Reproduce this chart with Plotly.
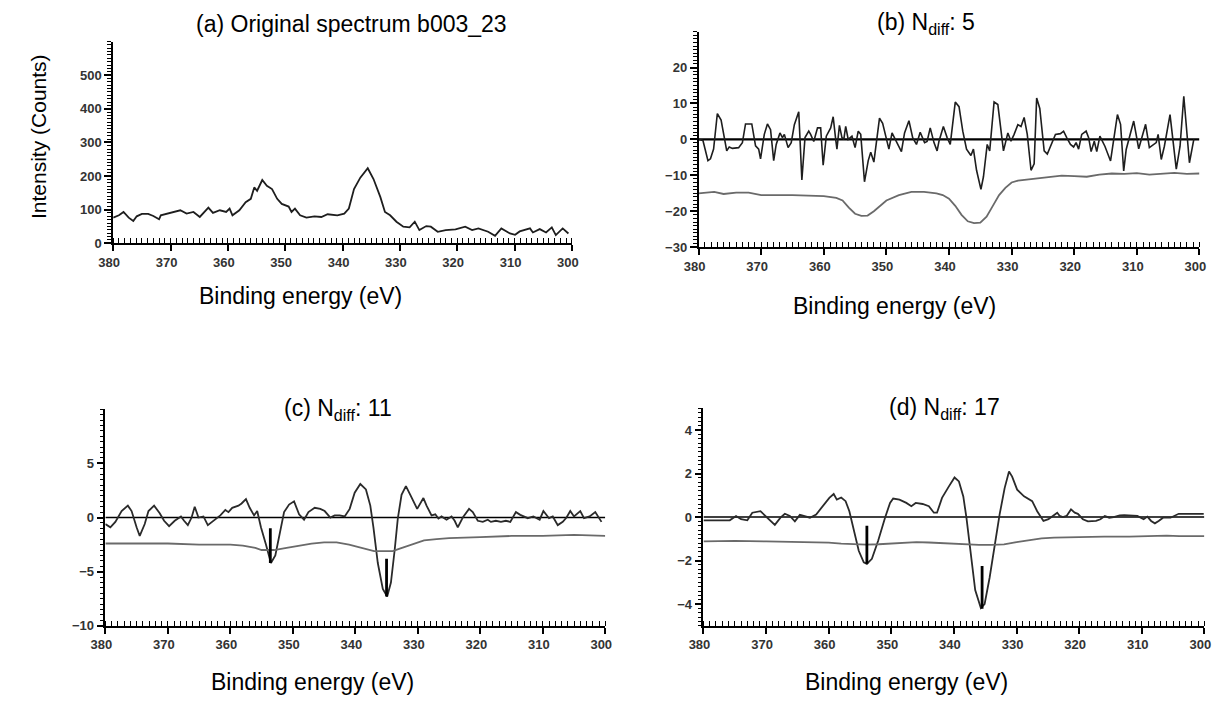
import plotly.graph_objects as go

W, H = 1231, 703

# ---------------- (a) Original spectrum ----------------
a_x = [380, 379.0, 378.2, 377.3, 376.5, 375.9, 375.0, 373.9, 373.0, 372.0,
       371.7, 370.6, 369.4, 368.3, 367.2, 366.0, 364.9, 363.4, 362.6, 361.4, 360.3, 359.7, 359.2, 358.0,
       356.9, 356.0, 355.4, 354.9, 354.0, 353.2, 352.3, 351.4, 350.6, 349.4, 348.9, 348.3, 347.4, 346.3,
       344.9, 343.7, 342.6, 340.9, 339.7, 338.9, 338.0, 336.9, 335.6, 334.6, 333.4, 332.6, 331.7, 330.6,
       329.4, 328.3, 327.4, 326.6, 325.4, 324.6, 323.4, 322.0, 320.3, 318.6, 317.4, 316.3, 314.6, 313.4,
       312.3, 310.8, 309.9, 309.1, 307.3, 306.8, 305.6, 304.5, 303.5, 302.8, 301.6, 300.6]
a_y = [76, 83, 93, 76, 66, 80, 87, 87, 81, 71,
       83, 88, 93, 98, 88, 93, 78, 106, 90, 98, 93, 103, 83, 98,
       122, 132, 166, 156, 188, 171, 161, 132, 117, 109, 93, 103, 83, 76,
       80, 78, 86, 83, 88, 103, 161, 195, 223, 191, 137, 93, 83, 64,
       49, 47, 64, 39, 51, 49, 34, 39, 41, 49, 39, 44, 34, 22,
       44, 29, 25, 35, 44, 32, 42, 32, 47, 24, 44, 29]

# ---------------- (b) N_diff = 5 ----------------
b_x = [380, 379.3, 378.5, 378.1, 377.6, 377.0, 376.4, 375.9, 375.5, 375.1, 374.6, 373.6, 373.0, 372.5,
       371.5, 370.9, 370.4, 370.1, 369.5, 369.0, 368.5, 368.0, 367.6, 367.0, 366.6, 366.3, 365.7, 365.2,
       364.7, 364.0, 363.5, 363.0, 362.4, 362.1, 361.6, 361.0, 360.5, 360.1, 359.6, 358.9, 358.5, 358.1,
       357.9, 357.5, 357.1, 356.8, 356.5, 356.1, 355.5, 355.0, 354.5, 354.1, 353.5, 352.9, 352.5, 352.0,
       351.6, 351.1, 350.6, 350.2, 349.6, 349.1, 348.4, 347.6, 347.1, 346.4, 345.8, 345.2, 344.6, 343.9,
       343.5, 343.0, 342.4, 341.9, 341.6, 340.9, 340.3, 339.8, 339.0, 338.4, 337.8, 337.2, 336.5, 336.1,
       335.6, 334.9, 334.5, 333.9, 333.5, 332.8, 332.2, 331.6, 331.3, 330.6, 330.1, 329.6, 329.0, 328.5,
       328.0, 327.5, 326.9, 326.4, 326.0, 325.5, 324.8, 324.3, 323.8, 323.0, 322.2, 321.7, 321.2, 320.6,
       320.1, 319.7, 319.3, 318.8, 318.1, 317.7, 317.3, 316.8, 316.4, 315.9, 315.1, 314.2, 313.1, 312.6,
       312.1, 311.7, 310.5, 310.1, 309.7, 308.6, 308.0, 306.9, 306.6, 306.1, 305.6, 304.7, 303.7, 303.1,
       302.5, 301.6, 300.9]
b_y = [0, -0.3, -5.9, -5.4, -2.7, 7.2, 5.4, 0.5, -3.2, -2.1, -2.5, -2.3, -0.9, 4.3,
       4.3, -1.8, -2.7, -5.4, 1.4, 4.3, 2.7, -5.9, -1.4, 1.8, 0.5, 1.4, -2.3, -0.9,
       4.1, 7.7, -11.3, 0.5, 2.3, 1.4, -0.6, 3.2, 3.2, -7.2, 0.9, 3.2, 6.3, 0,
       -2.7, 3.9, 0.5, 0, 3.6, 0, 0.9, -2.3, 2.3, 1.4, -11.8, -5.9, -3.6, -6.3,
       -0.9, 5.9, 4.5, 1.8, -2.7, 1.8, -0.5, -3.4, 1.8, 5.2, 0.5, -1.4, 2.0, -0.9,
       -0.6, 3.2, -0.9, -3.2, -0.5, 3.6, 0.5, -1.4, 10.4, 9.1, 2.3, -2.7, -4.5, -2.7,
       -8.6, -13.9, -10.4, -1.4, -3.2, 10.4, 9.7, 0.5, -3.2, 1.8, -0.5, 1.4, 4.1, 3.6,
       6.1, 1.4, -8.6, -6.8, 11.5, 8.6, -3.2, -4.1, -1.8, 1.4, 1.6, 2.3, 0.5, -1.4,
       -2.1, -0.9, -2.7, 1.4, 2.3, 0.5, -3.4, -0.5, -3.4, 0.9, -1.9, -6.0, 6.9, 4.2,
       -8.8, -2.8, 5.1, 0.9, -2.6, 4.2, -2.3, -0.9, 1.4, -5.6, -1.9, 6.9, -8.3, -1.9,
       12.0, -6.5, 0]
b_ref_x = [380, 377.5, 376, 374, 372, 370, 365, 362, 360, 358, 357, 356, 355, 354, 353, 352, 351, 350,
           348, 346, 344, 342, 341, 340, 339, 338, 337, 336, 335, 334, 333, 332, 331, 330, 329, 328,
           326, 324, 322, 320, 318, 316, 314, 312, 310, 308, 306, 304, 302, 300]
b_ref_y = [-15, -14.6, -15.2, -14.8, -14.8, -15.5, -15.5, -15.7, -15.8, -16.3, -17, -19, -20.7, -21.3,
           -21.2, -20, -18.5, -17, -15.5, -14.6, -14.6, -15, -15.5, -16.5, -18.5, -21, -22.8, -23.3,
           -23.2, -21.5, -18.5, -15.5, -13.5, -12, -11.5, -11.3, -10.8, -10.3, -10.1, -10.2, -10.4,
           -9.8, -9.5, -9.6, -9.4, -9.8, -9.6, -9.3, -9.6, -9.5]

# ---------------- (c) N_diff = 11 ----------------
c_x = [380, 379.2, 378.4, 377.4, 376.4, 375.8, 375.0, 374.5, 373.7, 373.1, 372.2, 371.3, 370.6, 369.8,
       368.9, 367.9, 367.4, 366.8, 366.2, 365.7, 365.1, 364.3, 363.6, 362.7, 361.6, 360.8, 360.3, 359.7,
       358.7, 358.2, 357.5, 356.9, 356.2, 355.7, 355.1, 354.3, 353.5, 352.8, 352.2, 351.4, 350.6, 349.8,
       349.0, 348.2, 347.5, 346.5, 345.6, 344.9, 344.0, 343.3, 342.5, 341.7, 340.9, 340.1, 339.2, 338.3,
       337.6, 337.1, 336.4, 335.6, 334.9, 334.3, 333.7, 333.2, 332.6, 331.9, 331.2, 330.1, 329.1, 328.6,
       327.8, 327.2, 326.7, 326.2, 325.4, 324.6, 324.1, 323.6, 322.8, 321.8, 321.2, 320.4, 319.6, 318.8,
       318.3, 317.5, 316.7, 315.9, 315.2, 314.3, 313.6, 312.4, 311.5, 310.5, 309.9, 309.0, 308.4, 307.6,
       306.8, 306.2, 305.6, 305.0, 304.0, 303.4, 302.5, 301.6, 300.6]
c_y = [-0.6, -0.9, -0.4, 0.6, 1.1, 0.6, -0.9, -1.7, -0.6, 0.6, 1.1, 0.4, -0.3, -0.8,
       -0.3, 0.1, -0.3, -0.7, 0, 1.0, 0, 0.1, -0.7, -0.3, 0.2, 0.7, 0.5, 0.9,
       1.1, 1.3, 1.7, 0.9, 0.2, 0.6, -0.9, -2.5, -4.2, -3.5, -1.8, 0.5, 1.2, 1.5,
       0.3, -0.2, 0.5, 0.9, 0.8, 0.6, 0, 0.2, 0.2, 0.1, 0.8, 2.3, 3.1, 2.6,
       1.1, -0.9, -4.2, -6.6, -7.3, -6.0, -3.0, -0.1, 2.1, 2.9, 2.1, 0.8, 1.8, 1.1,
       0.2, 0.3, -0.1, 0.1, -0.2, 0.1, -0.3, -0.9, 0, 0.8, 0.5, -0.3, -0.4, -0.2,
       -0.4, -0.3, -0.4, -0.3, -0.4, 0.5, 0.25, -0.06, 0.1, -0.2, 0.6, -0.06, 0.1, -0.7,
       -0.4, 0, 0.6, 0.1, 0.6, -0.06, 0.1, 0.5, -0.4]
c_ref_x = [380, 370, 365, 360, 358, 356, 355, 353, 351, 349, 347, 345, 343, 341, 339, 337, 335, 334,
           333, 331, 329, 327, 325, 320, 315, 310, 305, 300]
c_ref_y = [-2.4, -2.4, -2.5, -2.5, -2.6, -2.8, -3.0, -3.0, -2.8, -2.6, -2.4, -2.3, -2.3, -2.5, -2.8,
           -3.1, -3.1, -3.1, -2.9, -2.5, -2.1, -2.0, -1.9, -1.8, -1.7, -1.7, -1.6, -1.7]
c_peak_x = [353.6, 335.0]
c_peak_top = [-1.0, -3.8]
c_peak_bottom = [-4.2, -7.3]

# ---------------- (d) N_diff = 17 ----------------
d_x = [380, 375.8, 374.8, 374.0, 373.0, 372.2, 370.9, 369.8, 368.6, 367.7, 367.0, 366.2, 365.4, 364.6,
       363.8, 363.0, 362.0, 360.9, 359.9, 359.2, 358.7, 358.0, 357.3, 356.7, 356.0, 355.2, 354.4, 353.9,
       353.1, 352.1, 351.0, 350.2, 349.7, 348.7, 347.6, 346.8, 346.1, 345.0, 344.0, 343.2, 342.7, 341.9,
       340.8, 339.9, 339.2, 338.5, 338.0, 337.3, 336.6, 335.7, 335.1, 334.3, 333.5, 332.7, 331.9, 331.2,
       330.7, 329.9, 328.8, 328.0, 327.5, 326.7, 325.7, 324.9, 324.2, 323.5, 323.1, 322.6, 322.0, 321.3,
       320.7, 320.2, 319.4, 318.6, 317.3, 316.6, 315.9, 315.2, 314.5, 313.5, 312.8, 311.6, 310.7, 309.7,
       309.1, 308.5, 307.9, 307.3, 306.6, 305.4, 304.1, 302.3, 300.1]
d_y = [-0.15, -0.15, 0.05, -0.1, -0.15, 0.2, 0.27, -0.03, -0.36, -0.03, 0.15, 0.05, -0.2, 0.1,
       0.05, -0.03, 0.12, 0.5, 0.88, 1.06, 0.8, 0.9, 0.73, 0.27, -0.64, -1.55, -2.08, -2.15,
       -1.92, -1.09, -0.03, 0.65, 0.85, 0.8, 0.65, 0.5, 0.65, 0.6, 0.5, 0.2, 0.2, 0.88,
       1.41, 1.82, 1.64, 0.95, -0.03, -1.7, -3.36, -4.18, -4.0, -2.79, -1.24, 0.12, 1.33, 2.09,
       1.86, 1.26, 0.95, 0.8, 0.73, 0.27, -0.18, -0.1, 0.05, 0.2, 0.05, 0, 0.05, 0.35,
       0.2, 0.15, -0.1, -0.2, -0.18, -0.1, 0.05, -0.03, 0, 0.08, 0.09, 0.08, 0.05, -0.1,
       0.02, -0.18, -0.29, -0.18, -0.03, -0.03, 0.15, 0.15, 0.15]
d_ref_x = [380, 375, 370, 365, 362, 360, 358, 356, 354, 352, 350, 348, 346, 344, 342, 340, 338, 336,
           334, 332, 330, 328, 326, 324, 320, 316, 312, 308, 306, 304, 300]
d_ref_y = [-1.12, -1.1, -1.12, -1.14, -1.15, -1.18, -1.22, -1.25, -1.27, -1.25, -1.22, -1.18, -1.15,
           -1.17, -1.2, -1.25, -1.27, -1.28, -1.28, -1.26, -1.15, -1.05, -0.98, -0.95, -0.92, -0.9,
           -0.9, -0.88, -0.85, -0.88, -0.88]
d_peak_x = [353.9, 335.5]
d_peak_top = [-0.4, -2.25]
d_peak_bottom = [-2.15, -4.22]

# ---------------- axis / label text ----------------
energy_ticks = list(range(300, 381, 10))
panel_titles = ["(a) Original spectrum b003_23", "(b) N<sub>diff</sub>: 5",
                "(c) N<sub>diff</sub>: 11", "(d) N<sub>diff</sub>: 17"]
x_title = "Binding energy (eV)"
y_title = "Intensity (Counts)"
a_yticks = [0, 100, 200, 300, 400, 500]
b_yticks = [-30, -20, -10, 0, 10, 20]
c_yticks = [-10, -5, 0, 5]
d_yticks = [-4, -2, 0, 2, 4]

BLACK = "#1e1e1e"
GREY = "#6a6a6a"

fig = go.Figure()


def line(x, y, ax, color, width):
    fig.add_trace(go.Scatter(x=x, y=y, mode="lines", line=dict(color=color, width=width),
                             xaxis="x" + ax, yaxis="y" + ax, showlegend=False, hoverinfo="skip"))


# (a)
line(a_x, a_y, "", BLACK, 1.8)
# (b)
line([380, 300], [0, 0], "2", "#000000", 2.2)
line(b_x, b_y, "2", BLACK, 1.6)
line(b_ref_x, b_ref_y, "2", GREY, 1.8)
# (c)
line([380, 300], [0, 0], "3", "#000000", 1.6)
line(c_x, c_y, "3", "#2a2a2a", 1.8)
line(c_ref_x, c_ref_y, "3", GREY, 1.8)
for px_, t, b in zip(c_peak_x, c_peak_top, c_peak_bottom):
    line([px_, px_], [t, b], "3", "#000000", 2.8)
# (d)
line([380, 300], [0, 0], "4", "#000000", 1.6)
line(d_x, d_y, "4", "#2a2a2a", 1.8)
line(d_ref_x, d_ref_y, "4", GREY, 1.8)
for px_, t, b in zip(d_peak_x, d_peak_top, d_peak_bottom):
    line([px_, px_], [t, b], "4", "#000000", 2.8)

tick_font = dict(family="Arial, Liberation Sans, sans-serif", size=13, color="#333333", weight="bold")


def xax(x0, x1, anchor):
    return dict(domain=[x0 / W, x1 / W], range=[380, 300], anchor=anchor,
                tickmode="array", tickvals=energy_ticks, ticklabelshift=4,
                ticks="outside", ticklen=6, tickwidth=1.5, tickcolor="black",
                showline=True, linecolor="black", linewidth=1.6,
                showgrid=False, zeroline=False, tickfont=tick_font,
                minor=dict(tickmode="linear", tick0=300, dtick=1, ticks="inside", ticklen=5,
                           tickwidth=1, tickcolor="black", showgrid=False))


def yax(top, bottom, rng, tvals, mdt, anchor):
    return dict(domain=[1 - bottom / H, 1 - top / H], range=rng, anchor=anchor,
                tickmode="array", tickvals=tvals,
                ticks="outside", ticklen=7, tickwidth=1.5, tickcolor="black",
                showline=True, linecolor="black", linewidth=1.6,
                showgrid=False, zeroline=False, tickfont=tick_font,
                minor=dict(tickmode="linear", tick0=rng[0], dtick=mdt, ticks="outside", ticklen=4,
                           tickwidth=1, tickcolor="black", showgrid=False))


fig.update_layout(
    width=W, height=H,
    margin=dict(l=0, r=0, t=0, b=0),
    paper_bgcolor="white", plot_bgcolor="white",
    showlegend=False,
    xaxis=xax(100, 567, "y"),
    yaxis=yax(42, 246, [0, 600], a_yticks, 10, "x"),
    xaxis2=xax(696, 1206, "y2"),
    yaxis2=yax(32, 250, [-30, 30], b_yticks, 1, "x2"),
    xaxis3=xax(92, 601, "y3"),
    yaxis3=yax(414, 633, [-10, 10], c_yticks, 0.5, "x3"),
    xaxis4=xax(701, 1211, "y4"),
    yaxis4=yax(413, 633, [-5, 5], d_yticks, 0.2, "x4"),
)

label_font = dict(family="Arial, Liberation Sans, sans-serif", color="black")


def ann(text, x, y, size, angle=0):
    fig.add_annotation(text=text, x=x / W, y=1 - y / H, xref="paper", yref="paper",
                       showarrow=False, xanchor="center", yanchor="middle", textangle=angle,
                       font=dict(size=size, **label_font))


ann(panel_titles[0], 343, 24, 23)
ann(panel_titles[1], 928, 24, 23)
ann(panel_titles[2], 329, 414, 23)
ann(panel_titles[3], 946, 413, 23)
ann(x_title, 291, 299, 23)
ann(x_title, 896, 310, 23)
ann(x_title, 303, 690, 23)
ann(x_title, 908, 690, 23)
ann(y_title, 24, 138, 21, -90)

fig.write_html("out.html")
